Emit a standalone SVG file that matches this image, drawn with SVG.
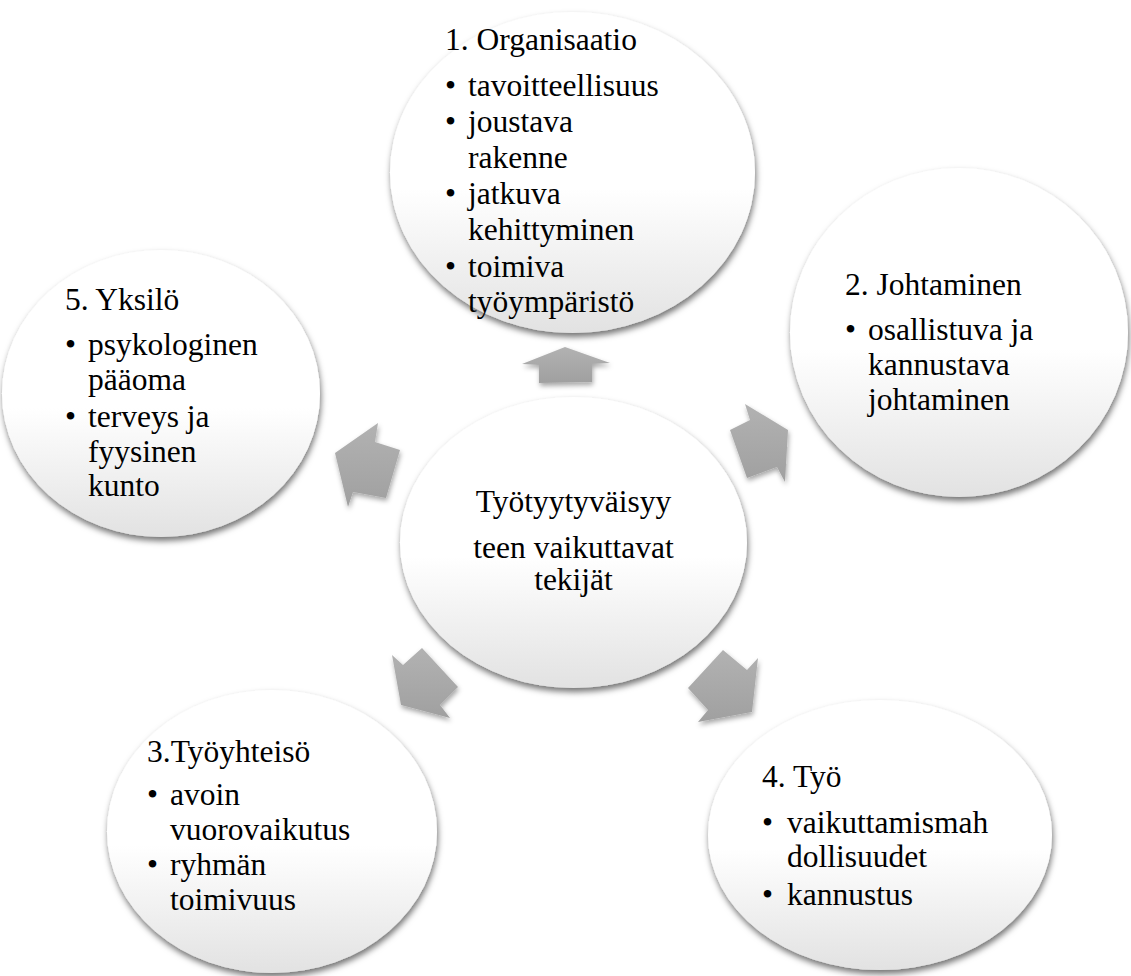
<svg xmlns="http://www.w3.org/2000/svg" width="1131" height="976" viewBox="0 0 1131 976">
  <style>
    .bubble { fill: url(#bubbleFill); filter: url(#bubbleShadow); }
    .arrow { fill: url(#arrowFill); filter: url(#arrowShadow); }
    .label { font-family: 'Liberation Serif', 'DejaVu Serif', serif; font-size: 31.5px; fill: #000; }
    .center { text-anchor: middle; }
  </style>
  <defs>
    <linearGradient id="bubbleFill" x1="0" y1="0" x2="0" y2="1">
      <stop offset="0" stop-color="#ffffff"/>
      <stop offset="0.55" stop-color="#ffffff"/>
      <stop offset="1" stop-color="#e2e2e2"/>
    </linearGradient>
    <linearGradient id="arrowFill" x1="0" y1="0" x2="0" y2="1">
      <stop offset="0" stop-color="#b2b2b2"/>
      <stop offset="1" stop-color="#a0a0a0"/>
    </linearGradient>
    <filter id="bubbleShadow" x="-10%" y="-10%" width="120%" height="125%">
      <feGaussianBlur in="SourceAlpha" stdDeviation="3"/>
      <feOffset dx="1" dy="4" result="blur"/>
      <feFlood flood-color="#000" flood-opacity="0.55"/>
      <feComposite in2="blur" operator="in"/>
      <feMerge>
        <feMergeNode/>
        <feMergeNode in="SourceGraphic"/>
      </feMerge>
    </filter>
    <filter id="arrowShadow" x="-30%" y="-30%" width="160%" height="160%">
      <feGaussianBlur in="SourceAlpha" stdDeviation="2.5"/>
      <feOffset dx="1" dy="3" result="blur"/>
      <feFlood flood-color="#000" flood-opacity="0.35"/>
      <feComposite in2="blur" operator="in"/>
      <feMerge>
        <feMergeNode/>
        <feMergeNode in="SourceGraphic"/>
      </feMerge>
    </filter>
  </defs>

  <!-- block arrows radiating from the hub -->
  <g id="connectors">
    <polygon class="arrow" points="565,347 610,363 592,364 592,382 539,383 539,365 522,364"/>
    <polygon class="arrow" points="745,404 788,430 785,482 777,467 747,478 730,430 750,420"/>
    <polygon class="arrow" points="758,658 752,712 698,722 708,710 688,688 723,650 747,670"/>
    <polygon class="arrow" points="392,655 403,665 422,648 458,687 440,705 450,718 401,705"/>
    <polygon class="arrow" points="378,423 375,442 400,450 386,498 353,492 348,507 335,453"/>
  </g>

  <!-- hub -->
  <g id="hub" class="label" font-family="Liberation Serif, serif" font-size="31.5">
    <ellipse class="bubble" cx="573.5" cy="542.5" rx="173.5" ry="145.5"/>
    <text class="center" x="573.5" y="512">Työtyytyväisyy</text>
    <text class="center" x="573.5" y="558">teen vaikuttavat</text>
    <text class="center" x="573.5" y="590">tekijät</text>
  </g>

  <!-- 1. Organisaatio -->
  <g id="organisaatio" class="label" font-family="Liberation Serif, serif" font-size="31.5">
    <ellipse class="bubble" cx="572.5" cy="172.5" rx="182.5" ry="160.5"/>
    <text x="445" y="50">1. Organisaatio</text>
    <text x="445" y="96">•</text><text x="468" y="96">tavoitteellisuus</text>
    <text x="445" y="132">•</text><text x="468" y="132">joustava</text>
    <text x="468" y="168">rakenne</text>
    <text x="445" y="204">•</text><text x="468" y="204">jatkuva</text>
    <text x="468" y="240">kehittyminen</text>
    <text x="445" y="277">•</text><text x="468" y="277">toimiva</text>
    <text x="468" y="312">työympäristö</text>
  </g>

  <!-- 2. Johtaminen -->
  <g id="johtaminen" class="label" font-family="Liberation Serif, serif" font-size="31.5">
    <ellipse class="bubble" cx="959" cy="332.5" rx="169" ry="164.5"/>
    <text x="845" y="295">2. Johtaminen</text>
    <text x="845" y="340">•</text><text x="868" y="340">osallistuva ja</text>
    <text x="868" y="375">kannustava</text>
    <text x="868" y="410">johtaminen</text>
  </g>

  <!-- 4. Työ -->
  <g id="tyo" class="label" font-family="Liberation Serif, serif" font-size="31.5">
    <ellipse class="bubble" cx="880" cy="835" rx="172" ry="135"/>
    <text x="762" y="787">4. Työ</text>
    <text x="762" y="833">•</text><text x="787" y="833">vaikuttamismah</text>
    <text x="787" y="867">dollisuudet</text>
    <text x="762" y="905">•</text><text x="787" y="905">kannustus</text>
  </g>

  <!-- 3. Työyhteisö -->
  <g id="tyoyhteiso" class="label" font-family="Liberation Serif, serif" font-size="31.5">
    <ellipse class="bubble" cx="272" cy="831.5" rx="165" ry="141.5"/>
    <text x="147" y="762">3.Työyhteisö</text>
    <text x="147" y="805">•</text><text x="170" y="805">avoin</text>
    <text x="170" y="840">vuorovaikutus</text>
    <text x="147" y="875">•</text><text x="170" y="875">ryhmän</text>
    <text x="170" y="910">toimivuus</text>
  </g>

  <!-- 5. Yksilö -->
  <g id="yksilo" class="label" font-family="Liberation Serif, serif" font-size="31.5">
    <ellipse class="bubble" cx="161" cy="393.5" rx="159" ry="143.5"/>
    <text x="65" y="310">5. Yksilö</text>
    <text x="65" y="355">•</text><text x="88" y="355">psykologinen</text>
    <text x="88" y="390">pääoma</text>
    <text x="65" y="427">•</text><text x="88" y="427">terveys ja</text>
    <text x="88" y="462">fyysinen</text>
    <text x="88" y="496">kunto</text>
  </g>
</svg>
